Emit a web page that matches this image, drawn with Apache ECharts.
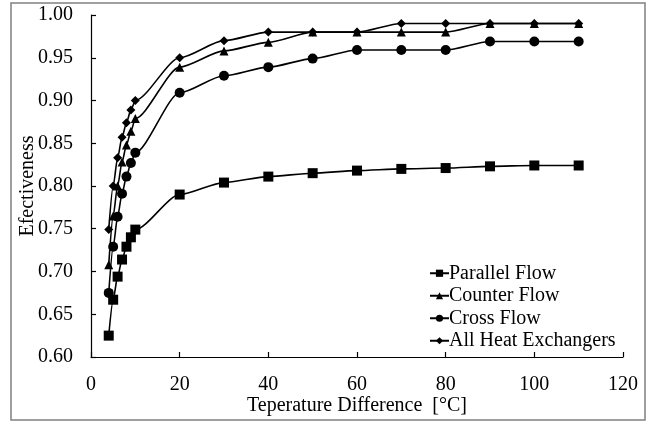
<!DOCTYPE html>
<html>
<head>
<meta charset="utf-8">
<script src="https://cdn.jsdelivr.net/npm/echarts@6/dist/echarts.min.js"></script>
<style>
  html, body { margin: 0; padding: 0; background: #fff; }
  #chart { width: 653px; height: 422px; }
</style>
</head>
<body>
<div id="chart"></div>
<script>
// temperature difference (x values)
var tempDiff = [4, 5, 6, 7, 8, 9, 10, 20, 30, 40, 50, 60, 70, 80, 90, 100, 110];

// effectiveness per heat exchanger type
var parallelFlow = [0.625, 0.667, 0.694, 0.714, 0.729, 0.740, 0.749, 0.790, 0.804, 0.811, 0.815, 0.818, 0.820, 0.821, 0.823, 0.824, 0.824];
var counterFlow  = [0.708, 0.765, 0.800, 0.828, 0.848, 0.864, 0.879, 0.939, 0.958, 0.968, 0.980, 0.980, 0.980, 0.980, 0.990, 0.990, 0.990];
var crossFlow    = [0.675, 0.729, 0.764, 0.791, 0.811, 0.827, 0.839, 0.909, 0.929, 0.939, 0.949, 0.959, 0.959, 0.959, 0.969, 0.969, 0.969];
var allHx        = [0.749, 0.800, 0.833, 0.857, 0.874, 0.889, 0.900, 0.950, 0.970, 0.980, 0.980, 0.980, 0.990, 0.990, 0.990, 0.990, 0.990];

var seriesNames = ['Parallel Flow', 'Counter Flow', 'Cross Flow', 'All Heat Exchangers'];

var serif = '"Liberation Serif", "DejaVu Serif", serif';

function pairs(xs, ys) {
    return xs.map(function(x, i) { return [x, ys[i]]; });
}

function makeSeries(name, values, symbol, size) {
    return {
        name: name,
        type: 'line',
        data: pairs(tempDiff, values),
        symbol: symbol,
        symbolSize: size,
        smooth: 0.25,
        smoothMonotone: 'x',
        lineStyle: { color: '#000', width: 1.6 },
        itemStyle: { color: '#000' },
        animation: false
    };
}

var chart = echarts.init(document.getElementById('chart'));

var option = {
    backgroundColor: '#fff',
    textStyle: { fontFamily: serif },
    graphic: [{
        type: 'rect',
        shape: { x: 11, y: 3, width: 634, height: 417 },
        style: { fill: 'none', stroke: '#808080', lineWidth: 1.5 },
        silent: true
    }],
    grid: {
        left: 91,
        right: 30,
        top: 15,
        bottom: 65
    },
    legend: {
        orient: 'vertical',
        left: 424,
        top: 257,
        itemWidth: 19,
        itemHeight: 9,
        itemGap: 0,
        data: seriesNames,
        textStyle: {
            fontFamily: serif,
            fontSize: 20,
            color: '#000',
            lineHeight: 22.5,
            padding: [0, 0, 0, -5]
        }
    },
    xAxis: {
        type: 'value',
        min: 0,
        max: 120,
        interval: 20,
        name: 'Teperature Difference  [\u00B0C]',
        nameLocation: 'middle',
        nameGap: 39,
        nameMoveOverlap: false,
        nameTextStyle: { fontFamily: serif, fontSize: 20, color: '#000' },
        axisLine: { lineStyle: { color: '#000', width: 1.2 } },
        axisTick: { inside: true, length: 5, lineStyle: { color: '#000', width: 1.2 } },
        axisLabel: { fontFamily: serif, fontSize: 20, color: '#000', margin: 18 },
        splitLine: { show: false }
    },
    yAxis: {
        type: 'value',
        min: 0.6,
        max: 1.0,
        interval: 0.05,
        name: 'Efectiveness',
        nameLocation: 'middle',
        nameGap: 53,
        nameMoveOverlap: false,
        nameTextStyle: { fontFamily: serif, fontSize: 20, color: '#000' },
        axisLine: { show: true, lineStyle: { color: '#000', width: 1.2 } },
        axisTick: { show: true, inside: true, length: 5, lineStyle: { color: '#000', width: 1.2 } },
        axisLabel: {
            fontFamily: serif,
            fontSize: 20,
            color: '#000',
            margin: 18,
            formatter: function(v) { return v.toFixed(2); }
        },
        splitLine: { show: false }
    },
    series: [
        makeSeries(seriesNames[0], parallelFlow, 'rect', 10),
        makeSeries(seriesNames[1], counterFlow, 'triangle', 9),
        makeSeries(seriesNames[2], crossFlow, 'circle', 10),
        makeSeries(seriesNames[3], allHx, 'diamond', 9)
    ]
};

chart.setOption(option);
</script>
</body>
</html>
